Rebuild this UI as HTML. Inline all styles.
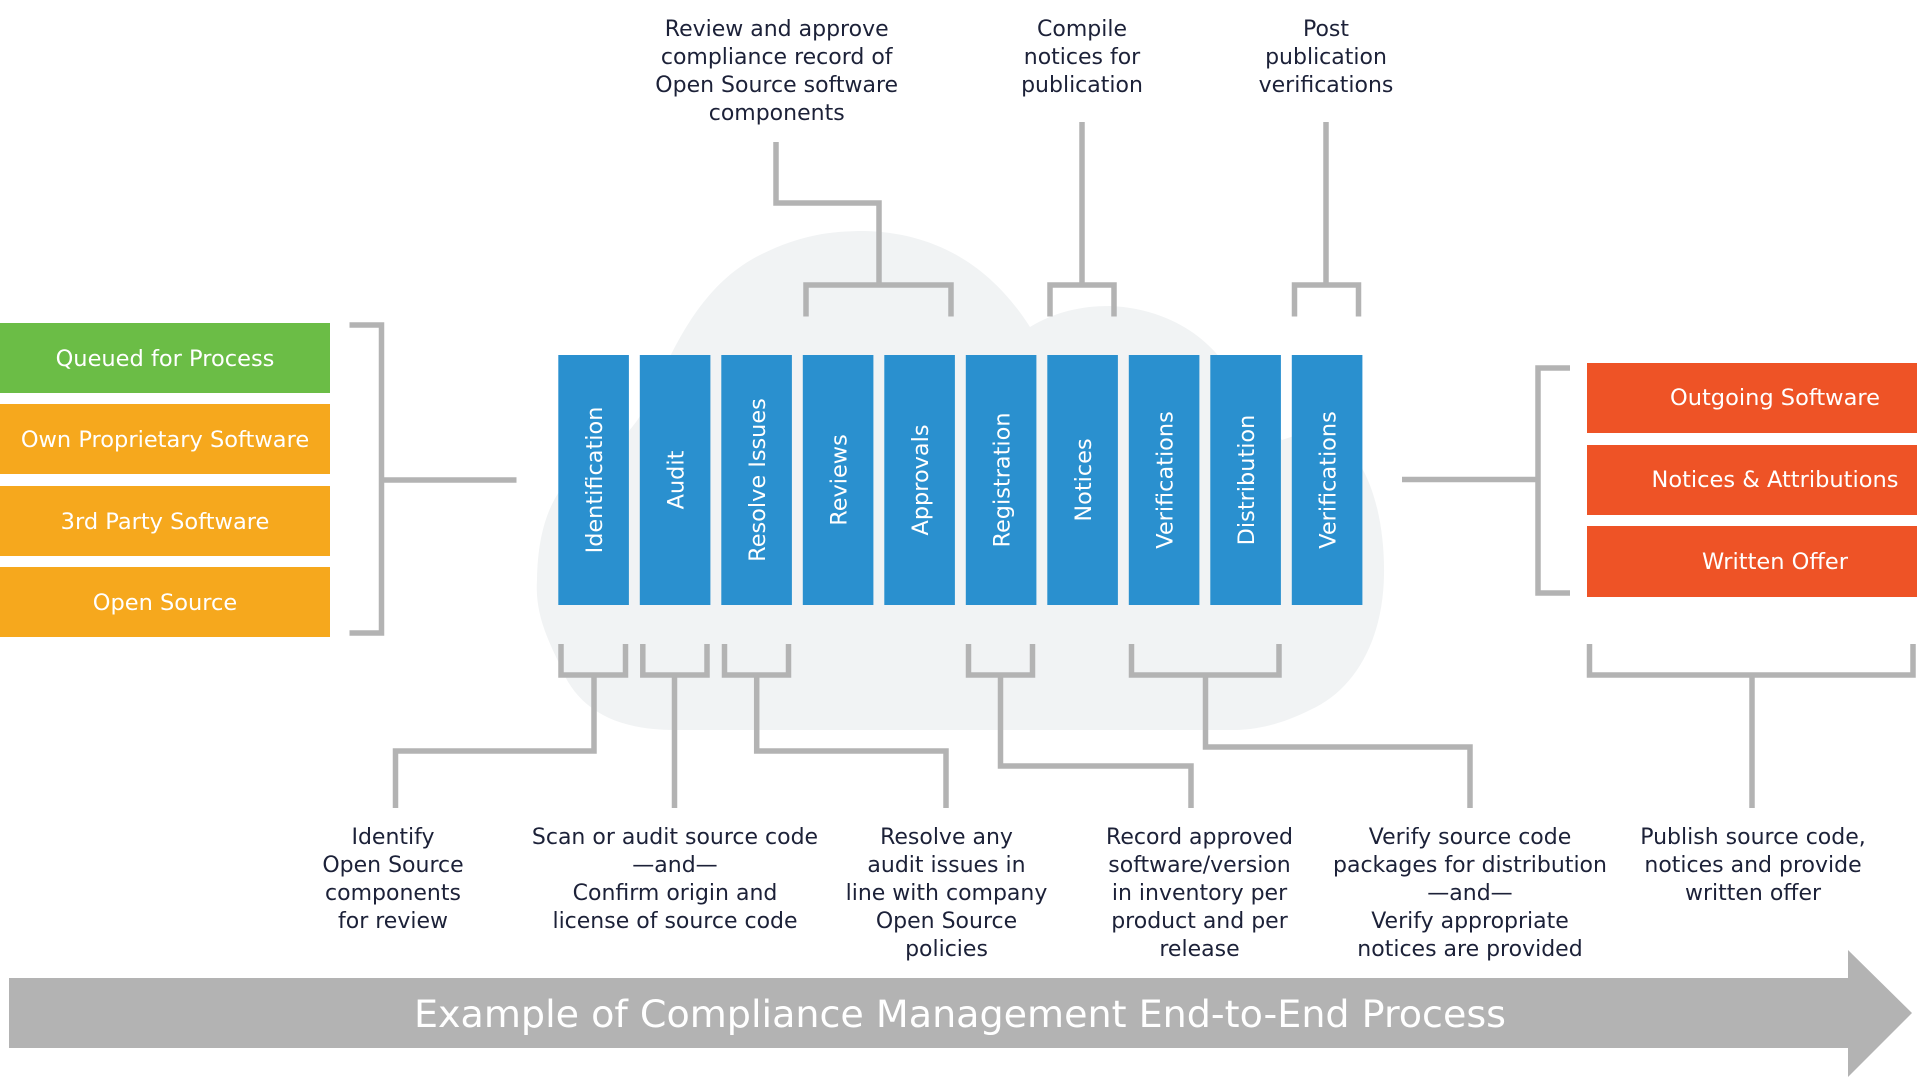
<!DOCTYPE html>
<html><head><meta charset="utf-8"><style>
html,body{margin:0;padding:0;background:#fff;}
svg{display:block;}
text{font-family:"DejaVu Sans","Liberation Sans",sans-serif;}
.lbl{font-size:22px;fill:#1c2138;text-anchor:middle;}
.box{font-size:22.5px;fill:#fff;text-anchor:middle;}
.bar{font-size:22.4px;fill:#fff;text-anchor:middle;}
.ln{stroke:#b3b3b3;stroke-width:5.5;fill:none;stroke-linecap:butt;stroke-linejoin:miter;}
</style></head><body>
<svg width="1921" height="1081" viewBox="0 0 1921 1081" xmlns="http://www.w3.org/2000/svg">
<!-- cloud -->
<path fill="#f1f3f4" d="M674,730 C610,730 575,705 560,665 C545,635 535,610 537,580 C538,520 555,480 600,455 C625,440 640,420 655,390 C680,330 710,280 760,255 C800,235 830,231 865,231 C950,233 1000,280 1030,327 C1055,312 1080,306 1110,306 C1160,308 1195,330 1215,352 C1240,380 1262,420 1282,440 C1300,433 1315,432 1325,434 C1370,450 1385,520 1384,575 C1383,640 1355,690 1310,710 C1280,725 1255,730 1233,730 Z"/>

<!-- left boxes -->
<rect x="0" y="323" width="330" height="70" fill="#6bbd46"/>
<rect x="0" y="404" width="330" height="70" fill="#f6a81d"/>
<rect x="0" y="486" width="330" height="70" fill="#f6a81d"/>
<rect x="0" y="567" width="330" height="70" fill="#f6a81d"/>
<text class="box" x="165" y="366">Queued for Process</text>
<text class="box" x="165" y="447">Own Proprietary Software</text>
<text class="box" x="165" y="529">3rd Party Software</text>
<text class="box" x="165" y="610">Open Source</text>

<!-- left bracket -->
<path class="ln" d="M349.5,325 H381.5 V633 H349.5"/>
<path class="ln" d="M381.5,480 H516.5"/>

<!-- bars -->
<g fill="#2a90cf">
<rect x="558.3" y="355" width="70.6" height="250"/>
<rect x="639.8" y="355" width="70.6" height="250"/>
<rect x="721.3" y="355" width="70.6" height="250"/>
<rect x="802.8" y="355" width="70.6" height="250"/>
<rect x="884.3" y="355" width="70.6" height="250"/>
<rect x="965.8" y="355" width="70.6" height="250"/>
<rect x="1047.3" y="355" width="70.6" height="250"/>
<rect x="1128.8" y="355" width="70.6" height="250"/>
<rect x="1210.3" y="355" width="70.6" height="250"/>
<rect x="1291.8" y="355" width="70.6" height="250"/>
</g>
<text class="bar" transform="translate(601.8,480) rotate(-90)">Identification</text>
<text class="bar" transform="translate(683.3,480) rotate(-90)">Audit</text>
<text class="bar" transform="translate(764.8,480) rotate(-90)">Resolve Issues</text>
<text class="bar" transform="translate(846.3,480) rotate(-90)">Reviews</text>
<text class="bar" transform="translate(927.8,480) rotate(-90)">Approvals</text>
<text class="bar" transform="translate(1009.3,480) rotate(-90)">Registration</text>
<text class="bar" transform="translate(1090.8,480) rotate(-90)">Notices</text>
<text class="bar" transform="translate(1172.3,480) rotate(-90)">Verifications</text>
<text class="bar" transform="translate(1253.8,480) rotate(-90)">Distribution</text>
<text class="bar" transform="translate(1335.3,480) rotate(-90)">Verifications</text>

<!-- top connectors -->
<path class="ln" d="M806,316.5 V285 H951 V316.5"/>
<path class="ln" d="M879,285 V203 H776 V142"/>
<path class="ln" d="M1050,316.5 V285 H1114 V316.5"/>
<path class="ln" d="M1082,285 V122"/>
<path class="ln" d="M1294.5,316.5 V285 H1358.5 V316.5"/>
<path class="ln" d="M1326,285 V122"/>

<!-- top labels -->
<text class="lbl" x="776.7" y="36">Review and approve</text>
<text class="lbl" x="776.7" y="64">compliance record of</text>
<text class="lbl" x="776.7" y="92">Open Source software</text>
<text class="lbl" x="776.7" y="120">components</text>
<text class="lbl" x="1082" y="36">Compile</text>
<text class="lbl" x="1082" y="64">notices for</text>
<text class="lbl" x="1082" y="92">publication</text>
<text class="lbl" x="1326" y="36">Post</text>
<text class="lbl" x="1326" y="64">publication</text>
<text class="lbl" x="1326" y="92">verifications</text>

<!-- bottom connectors -->
<path class="ln" d="M561,644 V675 H625.5 V644"/>
<path class="ln" d="M594,675 V751 H395.5 V808"/>
<path class="ln" d="M642.8,644 V675 H707 V644"/>
<path class="ln" d="M674.5,675 V808"/>
<path class="ln" d="M724.5,644 V675 H788.5 V644"/>
<path class="ln" d="M756.7,675 V751 H946 V808"/>
<path class="ln" d="M968.5,644 V675 H1032.5 V644"/>
<path class="ln" d="M1000.5,675 V766 H1191 V808"/>
<path class="ln" d="M1131.5,644 V675 H1279 V644"/>
<path class="ln" d="M1205.5,675 V747 H1470 V808"/>
<path class="ln" d="M1589.5,644 V675 H1913 V644"/>
<path class="ln" d="M1752,675 V808"/>

<!-- right bracket -->
<path class="ln" d="M1570,368 H1538 V593 H1570"/>
<path class="ln" d="M1402,479.5 H1538"/>

<!-- right boxes -->
<rect x="1587" y="363" width="330" height="70" fill="#ee5326"/>
<rect x="1587" y="445" width="330" height="70" fill="#ee5326"/>
<rect x="1587" y="526" width="330" height="71" fill="#ee5326"/>
<text class="box" x="1775" y="405">Outgoing Software</text>
<text class="box" x="1775" y="487">Notices &amp; Attributions</text>
<text class="box" x="1775" y="569">Written Offer</text>

<!-- bottom labels -->
<text class="lbl" x="393" y="844">Identify</text>
<text class="lbl" x="393" y="872">Open Source</text>
<text class="lbl" x="393" y="900">components</text>
<text class="lbl" x="393" y="928">for review</text>

<text class="lbl" x="675" y="844">Scan or audit source code</text>
<text class="lbl" x="675" y="872">—and—</text>
<text class="lbl" x="675" y="900">Confirm origin and</text>
<text class="lbl" x="675" y="928">license of source code</text>

<text class="lbl" x="946.5" y="844">Resolve any</text>
<text class="lbl" x="946.5" y="872">audit issues in</text>
<text class="lbl" x="946.5" y="900">line with company</text>
<text class="lbl" x="946.5" y="928">Open Source</text>
<text class="lbl" x="946.5" y="956">policies</text>

<text class="lbl" x="1199.5" y="844">Record approved</text>
<text class="lbl" x="1199.5" y="872">software/version</text>
<text class="lbl" x="1199.5" y="900">in inventory per</text>
<text class="lbl" x="1199.5" y="928">product and per</text>
<text class="lbl" x="1199.5" y="956">release</text>

<text class="lbl" x="1470" y="844">Verify source code</text>
<text class="lbl" x="1470" y="872">packages for distribution</text>
<text class="lbl" x="1470" y="900">—and—</text>
<text class="lbl" x="1470" y="928">Verify appropriate</text>
<text class="lbl" x="1470" y="956">notices are provided</text>

<text class="lbl" x="1753" y="844">Publish source code,</text>
<text class="lbl" x="1753" y="872">notices and provide</text>
<text class="lbl" x="1753" y="900">written offer</text>

<!-- arrow -->
<path fill="#b3b3b3" d="M9,978 H1848 V950 L1912,1013 L1848,1077 V1048 H9 Z"/>
<text x="960" y="1027" text-anchor="middle" font-size="37" fill="#ffffff" textLength="1092" lengthAdjust="spacingAndGlyphs">Example of Compliance Management End-to-End Process</text>
</svg>
</body></html>
